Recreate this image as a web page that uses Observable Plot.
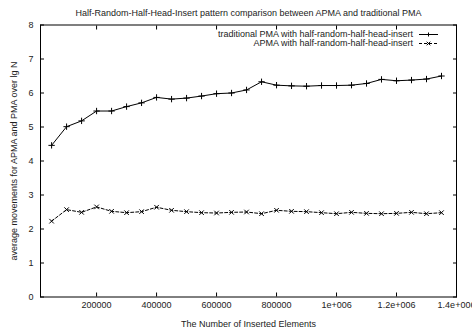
<!DOCTYPE html>
<html><head><meta charset="utf-8">
<script src="https://cdn.jsdelivr.net/npm/d3@7"></script>
<script src="https://cdn.jsdelivr.net/npm/@observablehq/plot@0.6"></script>
<style>
body{margin:0;background:#fff;font-family:"Liberation Sans",Arial,sans-serif}
#c{position:relative;width:472px;height:329px}
#legend{position:absolute;right:34px;top:29.5px;font-size:9px;line-height:9px;color:#222}
#legend .row{display:flex;align-items:center;justify-content:flex-end;height:9px}
#legend svg{margin-left:6px}
</style>
</head><body><div id="c"></div><script>
const title = "Half-Random-Half-Head-Insert pattern comparison between APMA and traditional PMA";
const xLabel = "The Number of Inserted Elements";
const yLabel = "average movements for APMA and PMA over lg N";
const seriesNames = ["traditional PMA with half-random-half-head-insert", "APMA with half-random-half-head-insert"];
const inserted = [50000,100000,150000,200000,250000,300000,350000,400000,450000,500000,550000,600000,650000,700000,750000,800000,850000,900000,950000,1000000,1050000,1100000,1150000,1200000,1250000,1300000,1350000];
const traditionalPMA = [4.46,5.01,5.18,5.47,5.47,5.60,5.71,5.87,5.82,5.85,5.91,5.98,6.00,6.09,6.33,6.23,6.21,6.20,6.22,6.22,6.23,6.28,6.40,6.36,6.38,6.41,6.50];
const apma = [2.23,2.57,2.49,2.65,2.52,2.48,2.51,2.64,2.55,2.51,2.48,2.47,2.49,2.50,2.45,2.55,2.52,2.51,2.48,2.45,2.49,2.46,2.45,2.46,2.49,2.45,2.48];
const xTicks = [200000,400000,600000,800000,1000000,1200000,1400000];
const xTickLabels = ["200000","400000","600000","800000","1e+006","1.2e+006","1.4e+006"];
const yTicks = [0,1,2,3,4,5,6,7,8];

const rows = [];
inserted.forEach((x,i)=>{
  rows.push({x, y: traditionalPMA[i], s: seriesNames[0]});
  rows.push({x, y: apma[i], s: seriesNames[1]});
});
const trad = rows.filter(d=>d.s===seriesNames[0]);
const ap = rows.filter(d=>d.s===seriesNames[1]);
const fmtX = d => xTickLabels[xTicks.indexOf(d)];

const chart = Plot.plot({
  width: 472, height: 329,
  marginLeft: 40, marginRight: 16, marginTop: 24.5, marginBottom: 32.5,
  style: {fontFamily: '"Liberation Sans", Arial, sans-serif', fontSize: "9px", background: "#fff", color: "#222"},
  x: {domain: [13000, 1400000]},
  y: {domain: [0, 8]},
  marks: [
    Plot.axisX({ticks: xTicks, tickFormat: fmtX, tickSize: 0, tickPadding: 5, label: xLabel, labelAnchor: "center", labelArrow: "none", labelOffset: 30}),
    Plot.axisX({ticks: xTicks, tickSize: -4, text: null, label: null, stroke: "#000"}),
    Plot.axisX({anchor: "top", ticks: xTicks, tickSize: -4, text: null, label: null, stroke: "#000"}),
    Plot.axisY({ticks: yTicks, tickSize: 0, tickPadding: 7, label: yLabel, labelAnchor: "center", labelArrow: "none", labelOffset: 30}),
    Plot.axisY({ticks: yTicks, tickSize: -4, text: null, label: null, stroke: "#000"}),
    Plot.axisY({anchor: "right", ticks: yTicks, tickSize: -4, text: null, label: null, stroke: "#000"}),
    Plot.frame({stroke: "#000", strokeWidth: 1}),
    Plot.line(trad, {x: "x", y: "y", stroke: "#000", strokeWidth: 1}),
    Plot.dot(trad, {x: "x", y: "y", symbol: "plus", r: 2.2, stroke: "#000", strokeWidth: 1}),
    Plot.line(ap, {x: "x", y: "y", stroke: "#000", strokeWidth: 1, strokeDasharray: "3,2"}),
    Plot.dot(ap, {x: "x", y: "y", symbol: "times", r: 2.2, stroke: "#000", strokeWidth: 1}),
    Plot.text([title], {frameAnchor: "top", text: d => d, dy: -15, dx: 0, fontSize: 9, fill: "#222"})
  ]
});
const c = document.getElementById("c");
c.appendChild(chart);

const legend = document.createElement("div");
legend.id = "legend";
const ns = "http://www.w3.org/2000/svg";
seriesNames.forEach((name, i) => {
  const row = document.createElement("div");
  row.className = "row";
  const span = document.createElement("span");
  span.textContent = name;
  row.appendChild(span);
  const svg = document.createElementNS(ns, "svg");
  svg.setAttribute("width", 19); svg.setAttribute("height", 9);
  const line = document.createElementNS(ns, "line");
  line.setAttribute("x1", 0); line.setAttribute("x2", 19);
  line.setAttribute("y1", 4.5); line.setAttribute("y2", 4.5);
  line.setAttribute("stroke", "#000");
  if (i === 1) line.setAttribute("stroke-dasharray", "3,2");
  svg.appendChild(line);
  const m = document.createElementNS(ns, "path");
  m.setAttribute("d", i === 0 ? "M9.5,2.5V6.5M7.5,4.5H11.5" : "M7.7,2.7L11.3,6.3M11.3,2.7L7.7,6.3");
  m.setAttribute("stroke", "#000");
  svg.appendChild(m);
  row.appendChild(svg);
  legend.appendChild(row);
});
c.appendChild(legend);
</script></body></html>
